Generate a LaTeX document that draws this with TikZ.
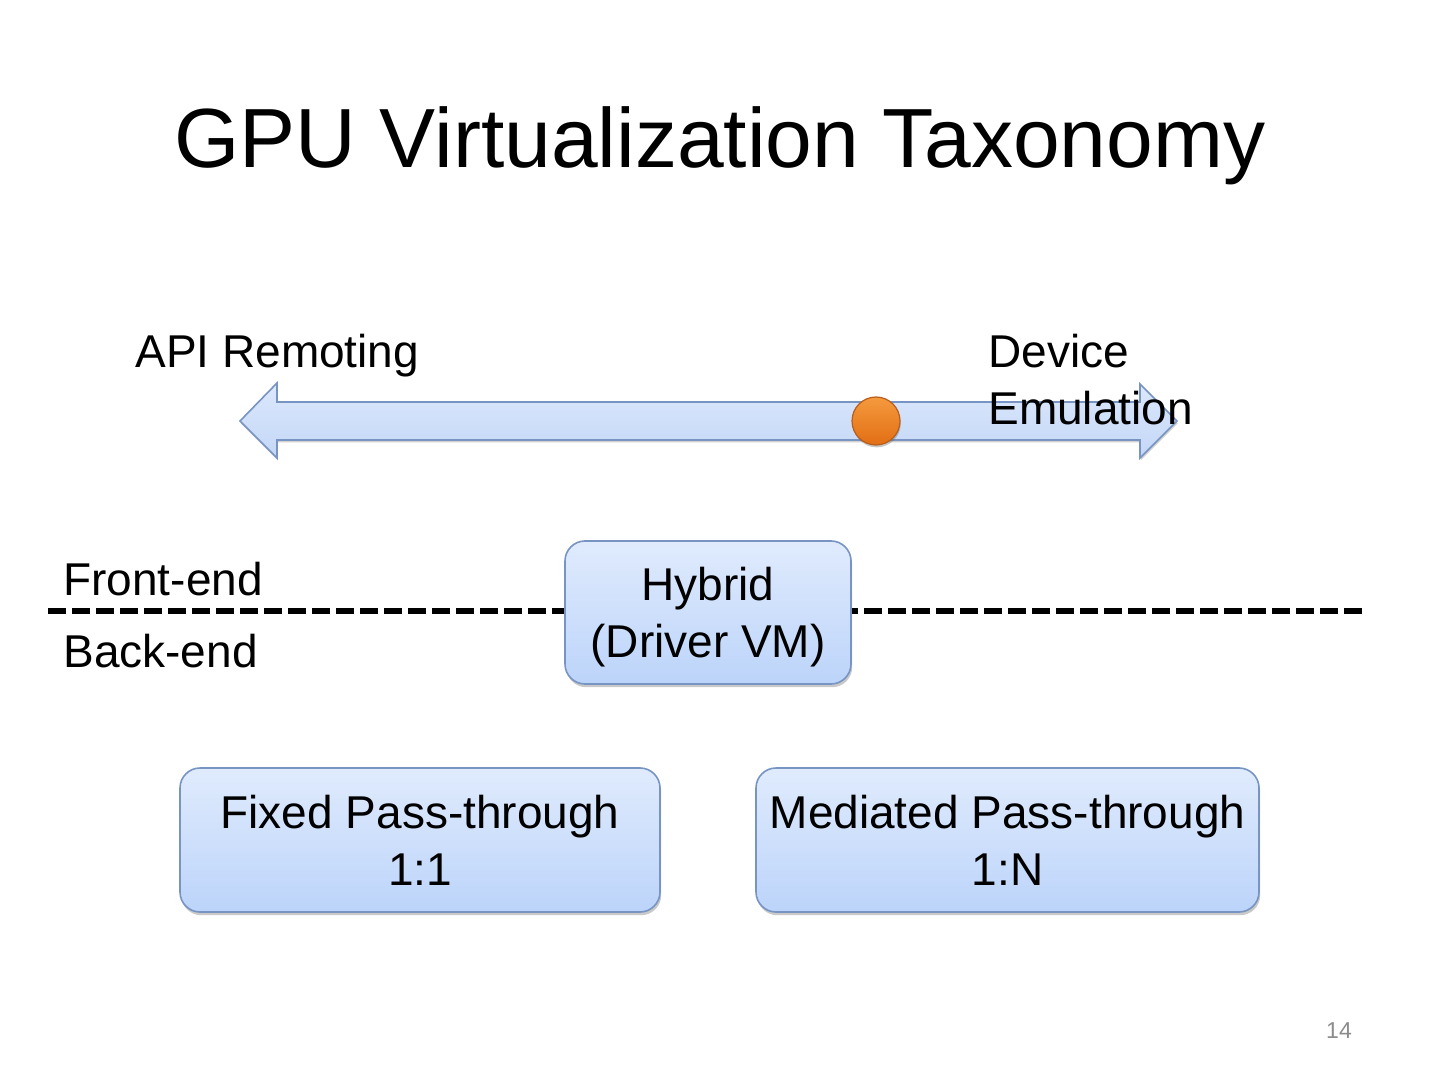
\documentclass[tikz,border=0pt]{standalone}
\usepackage{fontspec}
\setmainfont{Liberation Sans}
\usetikzlibrary{shadows}
\definecolor{boxtop}{HTML}{E0EBFD}
\definecolor{boxbot}{HTML}{BCD4FA}
\definecolor{boxline}{HTML}{7794C2}
\definecolor{arrtop}{HTML}{DCE8FC}
\definecolor{arrbot}{HTML}{C3D7F7}
\definecolor{orgtop}{HTML}{F59A3E}
\definecolor{orgbot}{HTML}{E26E14}
\definecolor{orgline}{HTML}{B85E1C}
\begin{document}
\begin{tikzpicture}[x=0.5pt,y=-0.5pt,
  body/.style={font=\fontsize{23}{28.5}\selectfont, inner sep=0pt},
  bluebox/.style={draw=boxline, line width=0.8pt, rounded corners=10pt,
    top color=boxtop, bottom color=boxbot, align=center,
    font=\fontsize{23}{28.5}\selectfont, inner sep=0pt, text depth=-2pt,
    drop shadow={shadow xshift=0.6pt, shadow yshift=-1.6pt, opacity=0.35, fill=black!60}},
  dashline/.style={line width=3pt, dash pattern=on 9pt off 3pt},
  bigarrow/.style={draw=boxline, line width=0.8pt, top color=arrtop, bottom color=arrbot,
    drop shadow={shadow xshift=0.4pt, shadow yshift=-1.2pt, opacity=0.3, fill=black!60}},
  ball/.style={circle, draw=orgline, line width=0.6pt, top color=orgtop, bottom color=orgbot,
    minimum size=24pt, inner sep=0pt,
    drop shadow={shadow xshift=0.4pt, shadow yshift=-1.2pt, opacity=0.35, fill=black!60}}
]
\useasboundingbox[fill=white] (0,0) rectangle (1440,1080);

% title
\node[anchor=base, inner sep=0pt, font=\fontsize{42}{48}\selectfont] (title) at (720,168) {GPU Virtualization Taxonomy};

% double block arrow
\path[bigarrow] (240,421) -- (277,383) -- (277,402) -- (1140,402) -- (1140,384) -- (1177,421)
  -- (1140,458) -- (1140,440) -- (277,440) -- (277,458) -- cycle;
\node[ball] (dot) at (876,421) {};

\node[body, anchor=base west] (api) at (135,368) {API Remoting};
\node[body, anchor=base west] (dev) at (988,368) {\begin{tabular}[t]{@{}l@{}}Device\\Emulation\end{tabular}};

% front/back end divider
\coordinate (dl) at (48,611);
\coordinate (dr) at (1366,611);
\draw[dashline] (dl) -- (dr);
\node[body, anchor=base west] (fe) at (63,595) {Front-end};
\node[body, anchor=base west] (be) at (63,667) {Back-end};

% boxes
\node[bluebox, minimum width=143pt, minimum height=71.5pt] (hyb) at (708,612.5) {Hybrid\\(Driver VM)};
\node[bluebox, minimum width=240pt, minimum height=72pt] (fix) at (420,840) {Fixed Pass-through\\1:1};
\node[bluebox, minimum width=251.5pt, minimum height=72pt] (med) at (1007.5,840) {Mediated Pass-through\\1:N};

% page number
\node[anchor=base, inner sep=0pt, text=black!45, font=\fontsize{11.5}{13}\selectfont] (pg) at (1339,1038) {14};
\end{tikzpicture}
\end{document}
